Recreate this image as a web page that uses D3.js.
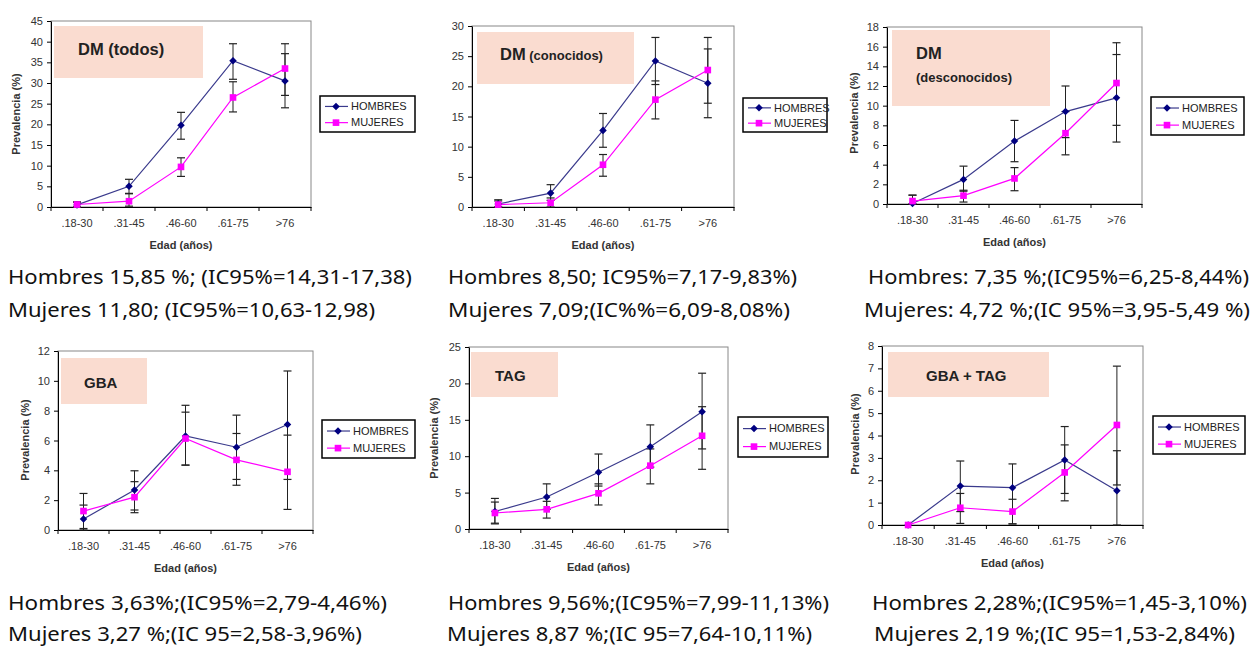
<!DOCTYPE html>
<html><head><meta charset="utf-8">
<script src="https://cdn.jsdelivr.net/npm/d3@7"></script>
<style>body{margin:0;background:#fff}svg{display:block}</style>
</head><body><svg id="c" width="1257" height="646"></svg>
<script>
// ---------- DATA ----------
const categories = [".18-30", ".31-45", ".46-60", ".61-75", ">76"];
const seriesNames = ["HOMBRES", "MUJERES"];

// DM (todos)
const h1 = [0.5, 5.0, 19.8, 35.4, 30.5];
const h1Lo = [0.0, 3.3, 16.4, 30.9, 24.0];
const h1Hi = [1.2, 6.7, 22.9, 39.5, 37.1];
const m1 = [0.6, 1.4, 9.7, 26.5, 33.5];
const m1Lo = [0.0, 0.2, 7.4, 23.0, 27.0];
const m1Hi = [1.2, 3.2, 11.9, 30.3, 39.5];
const yTicks1 = [0, 5, 10, 15, 20, 25, 30, 35, 40, 45];

// DM (conocidos)
const h2 = [0.5, 2.3, 12.7, 24.2, 20.5];
const h2Lo = [0.0, 1.1, 9.9, 20.3, 14.8];
const h2Hi = [1.2, 3.7, 15.5, 28.1, 26.2];
const m2 = [0.4, 0.7, 7.0, 17.8, 22.7];
const m2Lo = [0.0, 0.0, 5.1, 14.6, 17.2];
const m2Hi = [1.0, 1.5, 8.7, 20.9, 28.1];
const yTicks2 = [0, 5, 10, 15, 20, 25, 30];

// DM (desconocidos)
const h3 = [0.05, 2.5, 6.4, 9.4, 10.8];
const h3Lo = [0.0, 1.3, 4.3, 6.75, 6.3];
const h3Hi = [0.9, 3.85, 8.5, 12.0, 15.2];
const m3 = [0.3, 0.85, 2.6, 7.2, 12.3];
const m3Lo = [0.0, 0.2, 1.35, 5.0, 8.0];
const m3Hi = [0.9, 1.4, 3.7, 9.4, 16.4];
const yTicks3 = [0, 2, 4, 6, 8, 10, 12, 14, 16, 18];

// GBA
const h4 = [0.74, 2.68, 6.3, 5.55, 7.07];
const h4Lo = [0.0, 1.34, 4.35, 3.39, 3.39];
const h4Hi = [1.67, 3.97, 8.36, 7.7, 10.66];
const m4 = [1.27, 2.2, 6.13, 4.7, 3.9];
const m4Lo = [0.1, 1.16, 4.35, 3.0, 1.38];
const m4Hi = [2.45, 3.24, 7.9, 6.47, 6.36];
const yTicks4 = [0, 2, 4, 6, 8, 10, 12];

// TAG
const h5 = [2.4, 4.4, 7.8, 11.3, 16.1];
const h5Lo = [0.8, 2.7, 5.9, 8.5, 11.0];
const h5Hi = [4.2, 6.2, 10.3, 14.3, 21.4];
const m5 = [2.2, 2.7, 4.9, 8.7, 12.8];
const m5Lo = [0.7, 1.5, 3.3, 6.2, 8.2];
const m5Hi = [3.7, 3.8, 6.2, 11.0, 16.8];
const yTicks5 = [0, 5, 10, 15, 20, 25];

// GBA + TAG
const h6 = [0.0, 1.74, 1.67, 2.91, 1.53];
const h6Lo = [0.0, 0.6, 0.05, 1.41, 0.0];
const h6Hi = [0.0, 2.86, 2.73, 4.4, 3.32];
const m6 = [0.0, 0.77, 0.6, 2.35, 4.47];
const m6Lo = [0.0, 0.07, 0.05, 1.08, 1.79];
const m6Hi = [0.0, 1.41, 1.15, 3.58, 7.1];
const yTicks6 = [0, 1, 2, 3, 4, 5, 6, 7, 8];

const titles = [["DM (todos)"], ["DM", " (conocidos)"], ["DM", "(desconocidos)"], ["GBA"], ["TAG"], ["GBA + TAG"]];
const yTitles = ["Prevalencia (%)", "Prevalencia (%)", "Prevalencia (%)", "Prevalencia (%)", "Prevalencia (%)", "Prevalencia (%)"];
const xTitle = "Edad (años)";
const notesH = ["Hombres 15,85 %; (IC95%=14,31-17,38)", "Hombres 8,50; IC95%=7,17-9,83%)", "Hombres: 7,35 %;(IC95%=6,25-8,44%)",
                "Hombres 3,63%;(IC95%=2,79-4,46%)", "Hombres 9,56%;(IC95%=7,99-11,13%)", "Hombres 2,28%;(IC95%=1,45-3,10%)"];
const notesM = ["Mujeres 11,80; (IC95%=10,63-12,98)", "Mujeres 7,09;(IC%%=6,09-8,08%)", "Mujeres: 4,72 %;(IC 95%=3,95-5,49 %)",
                "Mujeres 3,27 %;(IC 95=2,58-3,96%)", "Mujeres 8,87 %;(IC 95=7,64-10,11%)", "Mujeres 2,19 %;(IC 95=1,53-2,84%)"];

const dataSets = [
  {h: h1, hLo: h1Lo, hHi: h1Hi, m: m1, mLo: m1Lo, mHi: m1Hi, ticks: yTicks1},
  {h: h2, hLo: h2Lo, hHi: h2Hi, m: m2, mLo: m2Lo, mHi: m2Hi, ticks: yTicks2},
  {h: h3, hLo: h3Lo, hHi: h3Hi, m: m3, mLo: m3Lo, mHi: m3Hi, ticks: yTicks3},
  {h: h4, hLo: h4Lo, hHi: h4Hi, m: m4, mLo: m4Lo, mHi: m4Hi, ticks: yTicks4},
  {h: h5, hLo: h5Lo, hHi: h5Hi, m: m5, mLo: m5Lo, mHi: m5Hi, ticks: yTicks5},
  {h: h6, hLo: h6Lo, hHi: h6Hi, m: m6, mLo: m6Lo, mHi: m6Hi, ticks: yTicks6}
];

// ---------- LAYOUT ----------
const layout = [
  {plot: [51, 21, 311, 207], tbox: [54, 26, 203, 78], tpos: [[78, 55, 16.5]], leg: [320, 96, 415, 132], ylab: [16, 114], clipTop: null,
   notes: [8, 284, 404, 8, 317, 367]},
  {plot: [472, 26, 734, 207], tbox: [477, 32, 634, 84], tpos: [[500, 60, 16.5], [null, 60, 13]], leg: [743, 98, 827, 132], ylab: [437, 117], clipTop: 82,
   notes: [448, 284, 349, 448, 317, 342]},
  {plot: [887, 27, 1142, 204], tbox: [892, 30, 1050, 106], tpos: [[916, 59, 16.5], [916, 82, 13]], leg: [1151, 97, 1244, 135], ylab: [854, 113], clipTop: null,
   notes: [868, 284, 381, 864, 317, 386]},
  {plot: [58, 351, 313, 530], tbox: [61, 358, 147, 404], tpos: [[84, 388, 15]], leg: [322, 420, 415, 458], ylab: [25, 440], clipTop: null,
   notes: [8, 610, 379, 8, 641, 354]},
  {plot: [469, 347, 728, 529], tbox: [471, 352, 558, 397], tpos: [[495, 381, 15]], leg: [738, 417, 828, 457], ylab: [434, 438], clipTop: null,
   notes: [448, 610, 381, 447, 641, 365]},
  {plot: [882, 346, 1143, 525], tbox: [888, 352, 1049, 397], tpos: [[926, 381, 15]], leg: [1153, 416, 1245, 454], ylab: [855, 434], clipTop: null,
   notes: [872, 610, 375, 874, 641, 361]}
];

const HCOL = "#000080", HLINE = "#3a3a8c", MCOL = "#ff00ff", ERR = "#222";
const svg = d3.select("#c");
const defs = svg.append("defs");

dataSets.forEach((ds, i) => {
  const L = layout[i];
  const [x0, y0, x1, y1] = L.plot;
  const g = svg.append("g");
  const x = d3.scaleBand().domain(categories).range([x0, x1]);
  const y = d3.scaleLinear().domain([0, ds.ticks[ds.ticks.length - 1]]).range([y1, y0]);
  const cx = c => x(c) + x.bandwidth() / 2;

  // plot frame
  g.append("rect").attr("x", x0).attr("y", y0).attr("width", x1 - x0).attr("height", y1 - y0)
    .attr("fill", "none").attr("stroke", "#888").attr("stroke-width", 1);

  // title box
  const tb = L.tbox;
  g.append("rect").attr("x", tb[0]).attr("y", tb[1]).attr("width", tb[2] - tb[0]).attr("height", tb[3] - tb[1])
    .attr("fill", "#fadcd0");
  if (L.tpos.length === 2 && L.tpos[1][0] === null) {
    const tt = g.append("text").attr("font-family", "Liberation Sans, Arial, sans-serif").attr("font-weight", "bold").attr("fill", "#222")
      .attr("x", L.tpos[0][0]).attr("y", L.tpos[0][1]);
    tt.append("tspan").attr("font-size", L.tpos[0][2]).text(titles[i][0]);
    tt.append("tspan").attr("font-size", L.tpos[1][2]).text(titles[i][1]);
  } else {
    L.tpos.forEach((tp, k) => {
      g.append("text").attr("x", tp[0]).attr("y", tp[1]).attr("font-size", tp[2])
        .attr("font-family", "Liberation Sans, Arial, sans-serif").attr("font-weight", "bold").attr("fill", "#222")
        .text(titles[i][k]);
    });
  }

  // y axis
  const ya = g.append("g").attr("transform", `translate(${x0},0)`)
    .call(d3.axisLeft(y).tickValues(ds.ticks).tickSize(4).tickPadding(4).tickSizeOuter(0));
  ya.selectAll("text").attr("font-family", "Liberation Sans, Arial, sans-serif").attr("font-size", 11).attr("fill", "#333");
  ya.selectAll("line,path").attr("stroke", "#000");

  // x axis
  const xa = g.append("g").attr("transform", `translate(0,${y1})`)
    .call(d3.axisBottom(x).tickSize(0).tickPadding(12).tickSizeOuter(0));
  xa.selectAll("text").attr("font-family", "Liberation Sans, Arial, sans-serif").attr("font-size", 11).attr("fill", "#333");
  xa.select("path").attr("stroke", "#000");
  const edges = categories.map(c => x(c)).concat([x(categories[categories.length - 1]) + x.bandwidth()]);
  g.selectAll(null).data(edges).enter().append("line")
    .attr("x1", d => d).attr("x2", d => d).attr("y1", y1).attr("y2", y1 + 4).attr("stroke", "#000");

  // axis titles
  g.append("text").attr("x", (x0 + x1) / 2).attr("y", y1 + 42).attr("text-anchor", "middle")
    .attr("font-family", "Liberation Sans, Arial, sans-serif").attr("font-size", 11).attr("font-weight", "bold").attr("fill", "#333")
    .text(xTitle);
  const yl = g.append("text").attr("transform", `translate(${L.ylab[0]},${L.ylab[1]}) rotate(-90)`).attr("text-anchor", "middle")
    .attr("dy", "0.35em")
    .attr("font-family", "Liberation Sans, Arial, sans-serif").attr("font-size", 11).attr("font-weight", "bold").attr("fill", "#333")
    .text(yTitles[i]);
  if (L.clipTop !== null) {
    defs.append("clipPath").attr("id", "yc" + i).append("rect")
      .attr("x", L.ylab[0] - 20).attr("y", L.clipTop).attr("width", 40).attr("height", 300);
    yl.attr("clip-path", `url(#yc${i})`);
  }

  // error bars
  const series = [
    {v: ds.h, lo: ds.hLo, hi: ds.hHi},
    {v: ds.m, lo: ds.mLo, hi: ds.mHi}
  ];
  series.forEach(s => {
    categories.forEach((c, k) => {
      if (s.hi[k] === s.lo[k]) return;
      const xx = cx(c);
      g.append("line").attr("x1", xx).attr("x2", xx).attr("y1", y(s.lo[k])).attr("y2", y(s.hi[k])).attr("stroke", ERR).attr("stroke-width", 1);
      [s.lo[k], s.hi[k]].forEach(v => {
        g.append("line").attr("x1", xx - 4).attr("x2", xx + 4).attr("y1", y(v)).attr("y2", y(v)).attr("stroke", ERR).attr("stroke-width", 1.2);
      });
    });
  });

  // lines
  const line = d3.line().x((d, k) => cx(categories[k])).y(d => y(d));
  g.append("path").datum(ds.h).attr("d", line).attr("fill", "none").attr("stroke", HLINE).attr("stroke-width", 1.2);
  g.append("path").datum(ds.m).attr("d", line).attr("fill", "none").attr("stroke", MCOL).attr("stroke-width", 1.2);

  // markers
  const dia = d3.symbol().type(d3.symbolDiamond2 || d3.symbolDiamond).size(36);
  const sq = d3.symbol().type(d3.symbolSquare).size(44);
  ds.h.forEach((v, k) => g.append("path").attr("d", dia).attr("transform", `translate(${cx(categories[k])},${y(v)})`).attr("fill", HCOL));
  ds.m.forEach((v, k) => g.append("path").attr("d", sq).attr("transform", `translate(${cx(categories[k])},${y(v)})`).attr("fill", MCOL));

  // legend
  const lg = L.leg;
  g.append("rect").attr("x", lg[0]).attr("y", lg[1]).attr("width", lg[2] - lg[0]).attr("height", lg[3] - lg[1])
    .attr("fill", "#fff").attr("stroke", "#000").attr("stroke-width", 1.5);
  const lh = lg[3] - lg[1];
  seriesNames.forEach((nm, k) => {
    const ly = lg[1] + lh * (k === 0 ? 0.29 : 0.74);
    g.append("line").attr("x1", lg[0] + 5).attr("x2", lg[0] + 28).attr("y1", ly).attr("y2", ly)
      .attr("stroke", k === 0 ? HLINE : MCOL).attr("stroke-width", 1.2);
    g.append("path").attr("d", k === 0 ? dia : sq).attr("transform", `translate(${lg[0] + 16},${ly})`).attr("fill", k === 0 ? HCOL : MCOL);
    g.append("text").attr("x", lg[0] + 31).attr("y", ly).attr("dy", "0.35em")
      .attr("font-family", "Liberation Sans, Arial, sans-serif").attr("font-size", 11).attr("fill", "#222").text(nm);
  });

  // notes
  const n = L.notes;
  [[notesH[i], n[0], n[1], n[2]], [notesM[i], n[3], n[4], n[5]]].forEach(([t, nx, ny, nw]) => {
    svg.append("text").attr("x", nx).attr("y", ny).attr("font-family", "Noto Sans, Open Sans, sans-serif").attr("font-size", 20)
      .attr("fill", "#111").attr("textLength", nw).attr("lengthAdjust", "spacingAndGlyphs").text(t);
  });
});
</script></body></html>
